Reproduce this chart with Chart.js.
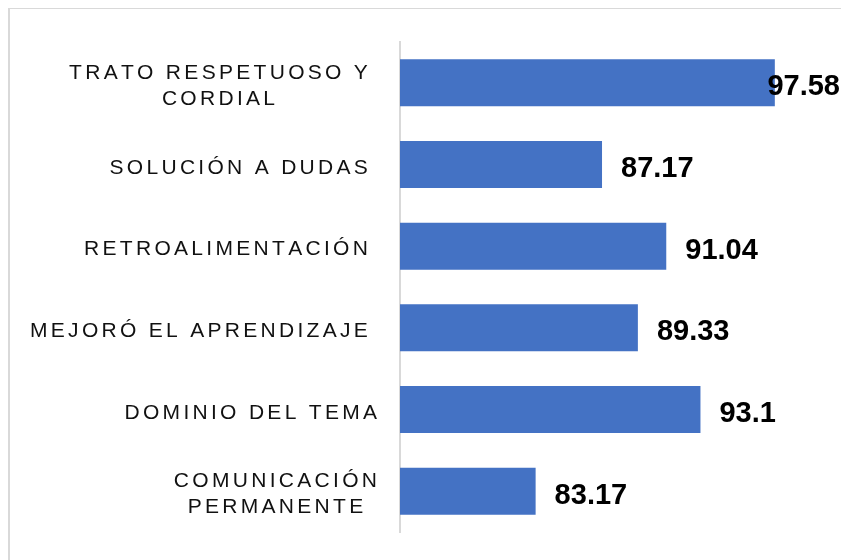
<!DOCTYPE html>
<html>
<head>
<meta charset="utf-8">
<script src="https://cdn.jsdelivr.net/npm/chart.js@4"></script>
<style>
    body { margin: 0; overflow: hidden; background: #fff; }
    #marco { position: absolute; left: 8px; top: 8px; width: 900px; height: 600px;
             border-top: 1px solid #d9d9d9; border-left: 2px solid #d9d9d9; }
    #grafico { position: absolute; left: 0; top: 0; }
</style>
</head>
<body>
<div id="marco"></div>
<canvas id="grafico" width="841" height="560"></canvas>
<script>
// Categorías (el espacio final reproduce el margen del original)
const categorias = [
    ["TRATO RESPETUOSO Y ", "CORDIAL "],
    ["SOLUCIÓN A DUDAS "],
    ["RETROALIMENTACIÓN "],
    ["MEJORÓ EL APRENDIZAJE "],
    ["DOMINIO DEL TEMA"],
    ["COMUNICACIÓN", "PERMANENTE"],
];

// Puntaje de cada categoría
const valores = [97.58, 87.17, 91.04, 89.33, 93.1, 83.17];

// Límites del eje de valores
const ejeMin = 75;
const ejeMax = 100;

// Dibuja texto con espaciado entre letras, carácter por carácter
function anchoEspaciado(ctx, texto, esp) {
    let w = 0;
    for (const ch of texto) w += ctx.measureText(ch).width + esp;
    return w - esp;
}
function dibujarEspaciado(ctx, texto, x, y, esp) {
    for (const ch of texto) {
        ctx.fillText(ch, x, y);
        x += ctx.measureText(ch).width + esp;
    }
}

// Plugin: etiquetas de categoría y valores sobre las barras
const etiquetas = {
    id: "etiquetas",
    afterDatasetsDraw(chart) {
        const ctx = chart.ctx;
        const yScale = chart.scales.y;
        const meta = chart.getDatasetMeta(0);
        ctx.save();

        // Nombres de categoría
        ctx.font = "21px 'Liberation Sans', Arial, sans-serif";
        ctx.fillStyle = "#111";
        ctx.textAlign = "left";
        ctx.textBaseline = "alphabetic";
        const esp = 3.3;
        const derecha = 377;
        categorias.forEach((lineas, i) => {
            const centro = yScale.getPixelForValue(i);
            const anchos = lineas.map(l => anchoEspaciado(ctx, l, esp));
            const bloque = Math.max(...anchos);
            const medio = derecha - bloque / 2;
            lineas.forEach((l, j) => {
                const y = centro + 9 + (j - (lineas.length - 1) / 2) * 25.5;
                dibujarEspaciado(ctx, l, medio - anchos[j] / 2, y, esp);
            });
        });

        // Valores al final de cada barra
        ctx.font = "bold 29px 'Liberation Sans', Arial, sans-serif";
        ctx.fillStyle = "#000";
        meta.data.forEach((bar, i) => {
            const texto = String(valores[i]);
            const w = ctx.measureText(texto).width;
            const x = Math.min(bar.x + 19, chart.width - w - 1);
            ctx.fillText(texto, x, bar.y + 12.5);
        });
        ctx.restore();
    },
};

const ctx = document.getElementById("grafico").getContext("2d");
new Chart(ctx, {
    type: "bar",
    data: {
        labels: categorias,
        datasets: [
            {
                data: valores,
                backgroundColor: "#4472C4",
                barPercentage: 0.575,
                categoryPercentage: 1,
            },
        ],
    },
    options: {
        indexAxis: "y",
        responsive: false,
        animation: false,
        layout: { padding: { top: 42, bottom: 28, right: 26, left: 0 } },
        plugins: {
            legend: { display: false },
            tooltip: { enabled: false },
        },
        scales: {
            x: { display: false, min: ejeMin, max: ejeMax },
            y: {
                ticks: { display: false },
                grid: { display: false },
                border: { color: "#d9d9d9", width: 2 },
                afterFit: (scale) => { scale.width = 400; },
            },
        },
    },
    plugins: [etiquetas],
});
</script>
</body>
</html>
